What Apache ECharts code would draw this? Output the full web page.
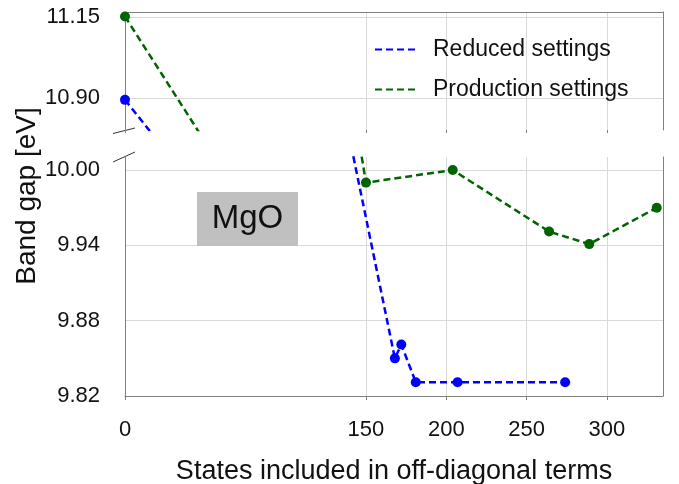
<!DOCTYPE html>
<html>
<head>
<meta charset="utf-8">
<script src="https://cdn.jsdelivr.net/npm/echarts@6/dist/echarts.min.js"></script>
<style>
html,body{margin:0;padding:0;background:#fff;}
#chart{width:679px;height:484px;}
</style>
</head>
<body>
<div id="chart"></div>
<script>
// ---- data ----
const reducedX = [0, 168, 172, 181, 207, 274];
const reducedY = [10.895, 9.850, 9.861, 9.831, 9.831, 9.831];
const productionX = [0, 150, 204, 264, 289, 331];
const productionY = [11.152, 9.990, 10.000, 9.951, 9.941, 9.970];
const xTicks = [0, 150, 200, 250, 300];
const yTicksTop = [10.90, 11.15];
const yTicksBottom = [9.82, 9.88, 9.94, 10.00];
const seriesNames = ['Reduced settings', 'Production settings'];
const xTitle = 'States included in off-diagonal terms';
const yTitle = 'Band gap [eV]';
const annotation = 'MgO';

const FONT = 'Liberation Sans';
const BLUE = '#0000ff', GREEN = '#006400';
const AX = '#808080', GR = '#dadada';

const zip = (xs, ys) => xs.map((x, i) => [x, ys[i]]);
const reduced = zip(reducedX, reducedY);
const production = zip(productionX, productionY);

const X_MIN = 0, X_MAX = 334.9;

function lineSeries(name, data, color, gi) {
  return {
    name, type: 'line', data, xAxisIndex: gi, yAxisIndex: gi * 2,
    clip: true, showAllSymbol: true,
    symbol: 'circle', symbolSize: 10,
    lineStyle: { color, width: 2.5, type: [7, 4] },
    itemStyle: { color },
    emphasis: { disabled: true },
    animation: false, z: 5
  };
}

const option = {
  animation: false,
  grid: [
    { left: 125, right: 16, top: 12, height: 118, outerBoundsMode: 'none', containLabel: false },
    { left: 125, right: 16, top: 157, height: 239, outerBoundsMode: 'none', containLabel: false }
  ],
  legend: {
    data: seriesNames,
    orient: 'vertical',
    left: 369, top: 33,
    itemWidth: 43, itemHeight: 14, itemGap: 17,
    itemStyle: { opacity: 0 },
    textStyle: { fontFamily: FONT, fontSize: 23, color: '#111', padding: [0, 0, 0, 10] },
    selectedMode: false
  },
  xAxis: [
    { gridIndex: 0, type: 'value', min: X_MIN, max: X_MAX,
      axisLine: { show: false },
      axisTick: { show: true, customValues: xTicks, length: 3, lineStyle: { color: AX } },
      axisLabel: { show: false, customValues: xTicks },
      splitLine: { show: true, lineStyle: { color: GR, width: 1 } } },
    { gridIndex: 1, type: 'value', min: X_MIN, max: X_MAX,
      name: xTitle, nameLocation: 'middle', nameGap: 62,
      nameTextStyle: { fontFamily: FONT, fontSize: 27, color: '#111' },
      axisLine: { show: true, lineStyle: { color: AX, width: 1 } },
      axisTick: { show: true, customValues: xTicks, length: 4, lineStyle: { color: AX } },
      axisLabel: { customValues: xTicks, margin: 23, fontFamily: FONT, fontSize: 22, color: '#111' },
      splitLine: { show: true, lineStyle: { color: GR, width: 1 } } },
    { gridIndex: 0, type: 'value', min: X_MIN, max: X_MAX, position: 'top',
      axisLine: { show: true, onZero: false, lineStyle: { color: AX, width: 1 } },
      axisTick: { show: false }, axisLabel: { show: false }, splitLine: { show: false } }
  ],
  yAxis: [
    { gridIndex: 0, type: 'value', min: 10.802, max: 11.166,
      axisLine: { show: true, onZero: false, lineStyle: { color: AX, width: 1 } },
      axisTick: { show: false, customValues: yTicksTop },
      axisLabel: { customValues: yTicksTop, margin: 25, fontFamily: FONT, fontSize: 22, color: '#111',
        formatter: v => v.toFixed(2) },
      splitLine: { show: true, lineStyle: { color: GR, width: 1 } } },
    { gridIndex: 0, type: 'value', min: 10.802, max: 11.166, position: 'right',
      axisLine: { show: true, onZero: false, lineStyle: { color: AX, width: 1 } },
      axisTick: { show: false }, axisLabel: { show: false }, splitLine: { show: false } },
    { gridIndex: 1, type: 'value', min: 9.82, max: 10.0104,
      axisLine: { show: true, onZero: false, lineStyle: { color: AX, width: 1 } },
      axisTick: { show: false, customValues: yTicksBottom },
      axisLabel: { customValues: yTicksBottom, margin: 25, fontFamily: FONT, fontSize: 22, color: '#111',
        formatter: v => v.toFixed(2) },
      splitLine: { show: true, lineStyle: { color: GR, width: 1 } } },
    { gridIndex: 1, type: 'value', min: 9.82, max: 10.0104, position: 'right',
      axisLine: { show: true, onZero: false, lineStyle: { color: AX, width: 1 } },
      axisTick: { show: false }, axisLabel: { show: false }, splitLine: { show: false } }
  ],
  series: [
    lineSeries(seriesNames[0], reduced, BLUE, 0),
    lineSeries(seriesNames[1], production, GREEN, 0),
    lineSeries(seriesNames[0], reduced, BLUE, 1),
    lineSeries(seriesNames[1], production, GREEN, 1)
  ],
  graphic: [
    { type: 'line', shape: { x1: 113, y1: 133.5, x2: 135, y2: 128 }, style: { stroke: '#333', lineWidth: 1 } },
    { type: 'line', shape: { x1: 113, y1: 162, x2: 135, y2: 152 }, style: { stroke: '#333', lineWidth: 1 } },
    { type: 'rect', shape: { x: 197, y: 192, width: 101, height: 54 }, style: { fill: '#c0c0c0' }, z: 10 },
    { type: 'text', x: 247.5, y: 219, z: 11,
      style: { text: annotation, fontFamily: FONT, fontSize: 33, fill: '#111', align: 'center', verticalAlign: 'middle' } },
    { type: 'text', x: 27, y: 196, rotation: Math.PI / 2,
      style: { text: yTitle, fontFamily: FONT, fontSize: 28, fill: '#111', align: 'center', verticalAlign: 'middle' } }
  ]
};

const chart = echarts.init(document.getElementById('chart'), null, { renderer: 'canvas' });
chart.setOption(option);
</script>
</body>
</html>
